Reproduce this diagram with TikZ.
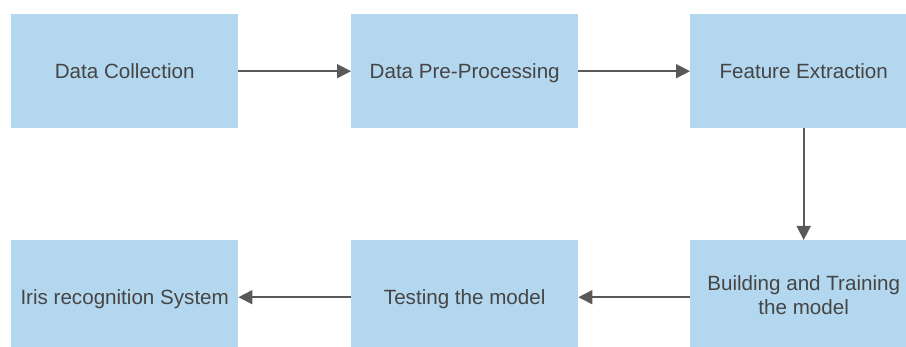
\documentclass[tikz,border=0pt]{standalone}
\usepackage{fontspec}
\setmainfont{Liberation Sans}
\usetikzlibrary{arrows.meta}
\definecolor{boxfill}{HTML}{B3D7EE}
\definecolor{txt}{HTML}{454545}
\definecolor{arr}{HTML}{595959}
\newcommand{\mystrut}{\rule[-4.5pt]{0pt}{23.75pt}}
\begin{document}
\begin{tikzpicture}[x=1pt,y=-1pt,
  stepbox/.style={fill=boxfill, draw=none, minimum width=227pt, minimum height=114pt, inner sep=0pt,
    text=txt, font=\fontsize{20.6}{23.5}\selectfont, align=center, anchor=north west,
    execute at begin node=\mystrut, execute at end node=\mystrut},
  conn/.style={draw=arr, line width=1.6pt, -{Triangle[length=14pt,width=14pt]}}]
\useasboundingbox (0,0) rectangle (906,347);
\clip (0,0) rectangle (906,347);
\node[stepbox] (a) at (11,14) {Data Collection};
\node[stepbox] (b) at (351,14) {Data Pre-Processing};
\node[stepbox] (c) at (690,14) {Feature Extraction};
\node[stepbox] (d) at (690,240) {Building and Training\\the model};
\node[stepbox] (e) at (351,240) {Testing the model};
\node[stepbox] (f) at (11,240) {Iris recognition System};
\draw[conn] (a.east) -- (b.west);
\draw[conn] (b.east) -- (c.west);
\draw[conn] (c.south) -- (d.north);
\draw[conn] (d.west) -- (e.east);
\draw[conn] (e.west) -- (f.east);
\end{tikzpicture}
\end{document}
